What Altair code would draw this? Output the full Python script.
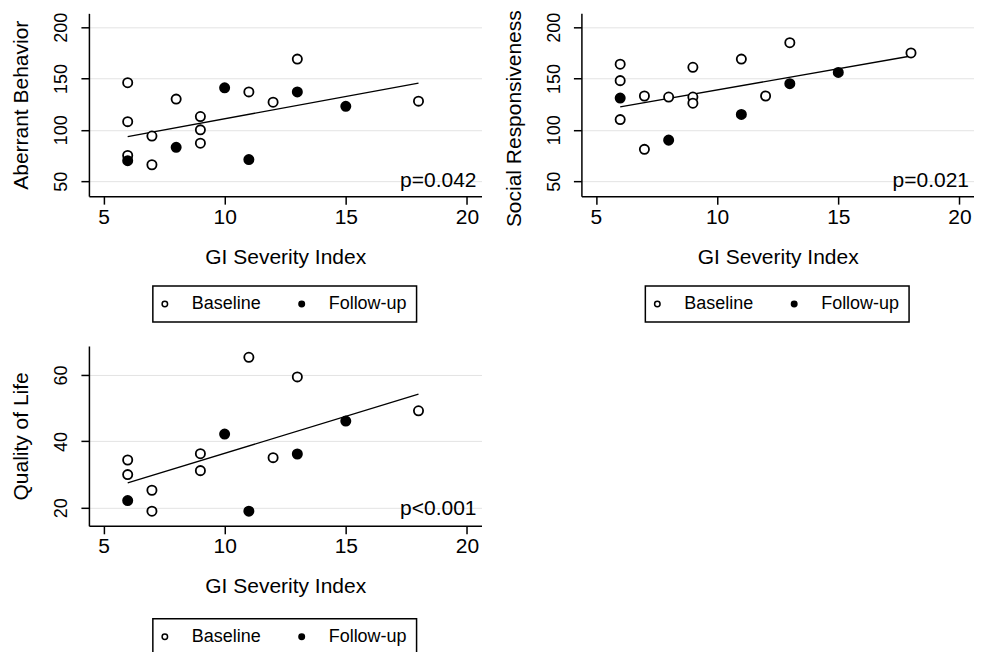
import altair as alt
import pandas as pd

FONT = "Liberation Sans"

# ---- data ----
x_ticks = [5, 10, 15, 20]

ab_base_x = [6, 6, 6, 7, 7, 8, 9, 9, 9, 11, 12, 13, 18]
ab_base_y = [146, 108, 75, 94, 66, 130, 113, 100, 87, 137, 127, 169, 128]
ab_fu_x = [6, 8, 10, 11, 13, 15]
ab_fu_y = [70, 83, 141, 71, 137, 123]
ab_fit_x = [6, 18]
ab_fit_y = [93.5, 145.5]
ab_ticks = [50, 100, 150, 200]
ab_p = "p=0.042"

sr_base_x = [6, 6, 6, 7, 7, 8, 9, 9, 9, 11, 12, 13, 18]
sr_base_y = [164, 148, 110, 133, 81, 132, 161, 132, 126, 169, 133, 185, 175]
sr_fu_x = [6, 8, 11, 13, 15]
sr_fu_y = [131, 90, 115, 145, 156]
sr_fit_x = [6, 18]
sr_fit_y = [122.4, 172]
sr_ticks = [50, 100, 150, 200]
sr_p = "p=0.021"

ql_base_x = [6, 6, 7, 7, 9, 9, 11, 12, 13, 18]
ql_base_y = [34.4, 30, 25.3, 19, 36.3, 31.2, 65.3, 35.1, 59.4, 49.2]
ql_fu_x = [6, 10, 11, 13, 15]
ql_fu_y = [22.2, 42.2, 19, 36.2, 46.1]
ql_fit_x = [6, 18]
ql_fit_y = [27.5, 54.2]
ql_ticks = [20, 40, 60]
ql_p = "p<0.001"

groups = ["Baseline", "Follow-up"]


def panel(bx, by, fx, fy, fitx, fity, ytitle, ydomain, yticks, ptext, h, pty,
          ytitle_y=None):
    pts = pd.DataFrame({
        "x": bx + fx,
        "y": by + fy,
        "g": [groups[0]] * len(bx) + [groups[1]] * len(fx),
    })
    fit = pd.DataFrame({"x": fitx, "y": fity})
    ptx = pd.DataFrame({"t": [ptext]})

    xs = alt.X("x:Q", scale=alt.Scale(domain=[4.4, 20.6], nice=False, zero=False),
               axis=alt.Axis(values=x_ticks, title="GI Severity Index", grid=False,
                             labelFontSize=21, titlePadding=19, titleFontSize=21))
    yaxis_kw = dict(values=yticks, title=ytitle, grid=True, labelAngle=270,
                    labelFontSize=18, labelPadding=10, titlePadding=21,
                    titleFontSize=21)
    if ytitle_y is not None:
        yaxis_kw["titleY"] = ytitle_y
    ys = alt.Y("y:Q", scale=alt.Scale(domain=ydomain, nice=False, zero=False),
               axis=alt.Axis(**yaxis_kw))

    line = alt.Chart(fit).mark_line(color="black", strokeWidth=1.3).encode(x=xs, y=ys)
    points = alt.Chart(pts).mark_point(shape="circle", filled=True, size=85,
                                       stroke="black", strokeWidth=1.8, opacity=1).encode(
        x=xs, y=ys,
        fill=alt.Fill("g:N", scale=alt.Scale(domain=groups, range=["white", "black"]),
                      sort=groups,
                      legend=alt.Legend(title=None, orient="none", legendX=64,
                                        legendY=273, direction="horizontal",
                                        symbolType="circle", symbolSize=30,
                                        symbolOffset=-6,
                                        symbolStrokeColor="black", symbolStrokeWidth=1.5,
                                        labelFontSize=18, labelOffset=18,
                                        columnPadding=34, padding=9,
                                        strokeColor="black")),
    )
    txt = alt.Chart(ptx).mark_text(align="right", baseline="alphabetic", fontSize=21,
                                   font=FONT, color="black").encode(
        x=alt.value(388), y=alt.value(pty), text="t:N")
    return alt.layer(line, points, txt).properties(width=393, height=h)


p1 = panel(ab_base_x, ab_base_y, ab_fu_x, ab_fu_y, ab_fit_x, ab_fit_y,
           "Aberrant Behavior", [35.4, 213.6], ab_ticks, ab_p, 183, 174)
p2 = panel(sr_base_x, sr_base_y, sr_fu_x, sr_fu_y, sr_fit_x, sr_fit_y,
           "Social Responsiveness", [35.4, 213.6], sr_ticks, sr_p, 183, 174,
           ytitle_y=105)
p3 = panel(ql_base_x, ql_base_y, ql_fu_x, ql_fu_y, ql_fit_x, ql_fit_y,
           "Quality of Life", [14.6, 68.7], ql_ticks, ql_p, 180, 169)

top = alt.hconcat(p1, p2, spacing=22).resolve_scale(fill="independent").resolve_legend(fill="independent")
chart = alt.vconcat(top, p3, spacing=23).resolve_scale(fill="independent").resolve_legend(fill="independent")

chart = chart.properties(
    padding={"left": 3, "top": 1, "right": 0, "bottom": 0},
    background="white",
).configure_view(stroke=None).configure_axis(
    domainColor="black", domainWidth=1.5, tickColor="black", tickWidth=1.5,
    tickSize=8, labelColor="black", titleColor="black", labelFont=FONT,
    titleFont=FONT, titleFontWeight="normal",
    gridColor="#e3e3e3", gridWidth=1,
).configure_legend(strokeWidth=1.5, labelFont=FONT, labelColor="black")

chart.save("out.html", embed_options={"renderer": "svg", "actions": False})
